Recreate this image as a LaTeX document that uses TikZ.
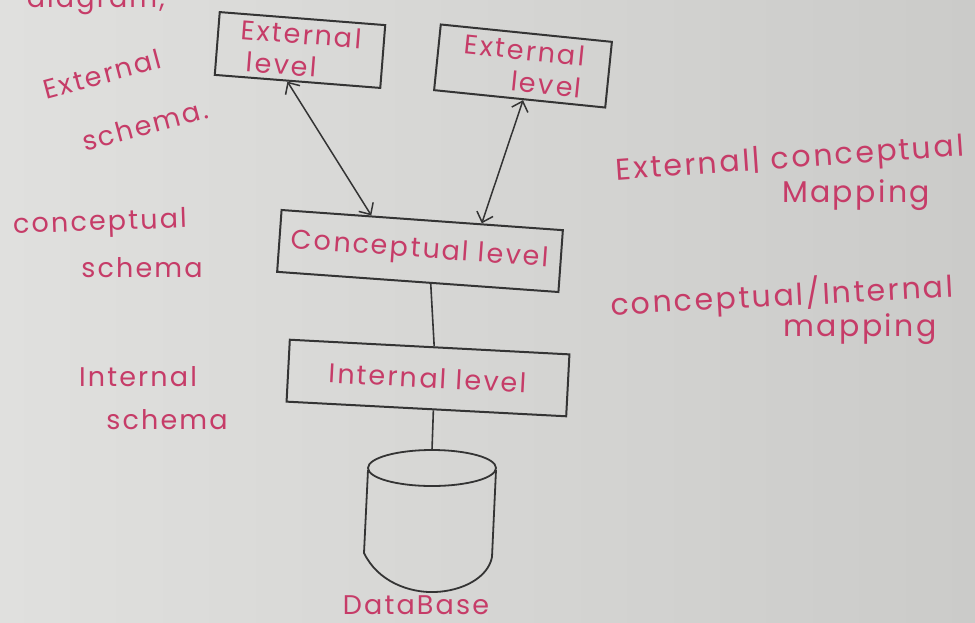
\documentclass[tikz,border=0pt]{standalone}
\usepackage{fontspec}
\setmainfont{Poppins}[LetterSpace=8]
\usetikzlibrary{arrows.meta,calc}
\definecolor{ink}{RGB}{198,60,104}
\definecolor{pencil}{RGB}{52,52,52}
\definecolor{paperL}{RGB}{224,224,222}
\definecolor{paperR}{RGB}{203,203,201}
\begin{document}
\begin{tikzpicture}[x=1pt,y=1pt,
  levelbox/.style={draw=pencil,line width=2pt,text=ink,
    font=\fontsize{27}{32}\selectfont,inner sep=2pt},
  note/.style={text=ink,font=\fontsize{27}{32}\selectfont,inner sep=0pt},
  bignote/.style={text=ink,font=\fontsize{30}{34}\selectfont,inner sep=0pt},
  link/.style={draw=pencil,line width=1.5pt,
    {Straight Barb[length=9pt,width=17pt]}-{Straight Barb[length=9pt,width=17pt]}},
  plain/.style={draw=pencil,line width=1.6pt},
  pencilline/.style={draw=pencil,line width=1.8pt}]

% paper
\fill[left color=paperL,right color=paperR] (0,0) rectangle (975,-622);
\useasboundingbox (0,0) rectangle (975,-622);

% heading, cut off by the page edge
\node[note,anchor=base east] (heading) at (165,-7) {diagram,};

% the three levels
\node[levelbox,minimum width=166,minimum height=63,rotate=-4.5,align=left]
  (ext1) at (300,-50) {External\\\hspace*{0.3em}level};
\node[levelbox,minimum width=172,minimum height=66,rotate=-5.8,align=right]
  (ext2) at (523,-66) {External\\level};
\node[levelbox,minimum width=282,minimum height=62,rotate=-4.1]
  (concept) at (420,-251) {Conceptual level};
\node[levelbox,minimum width=280,minimum height=62,rotate=-3]
  (internal) at (428,-378) {Internal level};

% database drum
\coordinate (dbtop) at (432,-450);
\draw[pencilline] (432,-468) ellipse [x radius=64,y radius=18];
\draw[pencilline] (368,-470) -- (364,-553)
  .. controls (378,-582) and (410,-593) .. (435,-592)
  .. controls (462,-591) and (488,-578) .. (492,-557) -- (496,-470);
\node[note] (db) at (416,-605) {DataBase};

% mappings between levels
\draw[link] ($(ext1.south west)!0.44!(ext1.south east)$) --
            ($(concept.north west)!0.32!(concept.north east)$);
\draw[link] ($(ext2.south west)!0.52!(ext2.south east)$) --
            ($(concept.north west)!0.71!(concept.north east)$);
\draw[plain] ($(concept.south west)!0.546!(concept.south east)$) --
             ($(internal.north west)!0.516!(internal.north east)$);
\draw[plain] ($(internal.south west)!0.525!(internal.south east)$) -- (dbtop);

% schema names on the left
\node[note,rotate=15] (extA) at (102,-74) {External};
\node[note,rotate=15] (extB) at (145,-125) {schema.};
\node[note,rotate=2] (conA) at (100,-224) {conceptual};
\node[note] (conB) at (142,-268) {schema};
\node[note] (intA) at (138,-377) {Internal};
\node[note] (intB) at (167,-420) {schema};

% mapping names on the right
\node[bignote,rotate=4] (mapA1) at (790,-160) {External| conceptual};
\node[bignote] (mapA2) at (856,-195) {Mapping};
\node[bignote,rotate=3] (mapB1) at (782,-296) {conceptual/Internal};
\node[bignote] (mapB2) at (860,-329) {mapping};
\end{tikzpicture}
\end{document}
